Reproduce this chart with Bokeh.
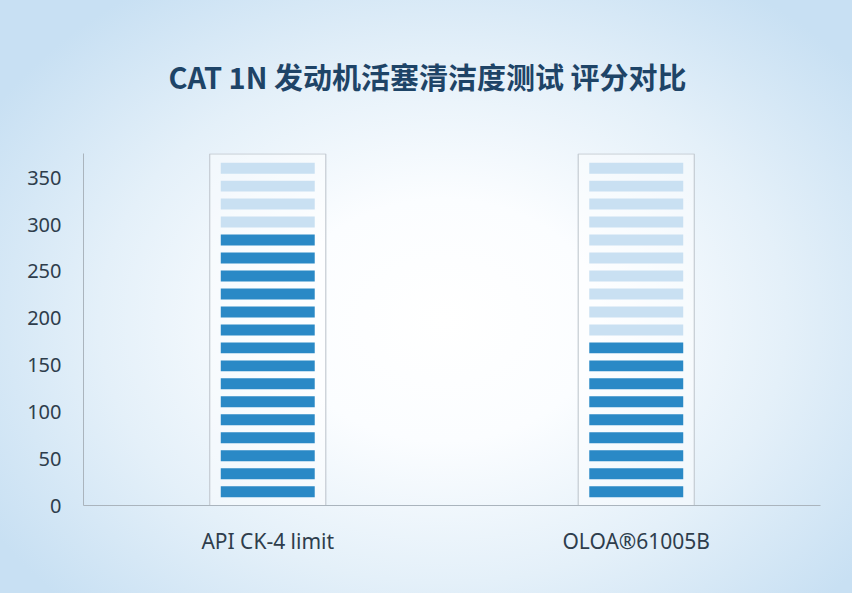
from bokeh.plotting import figure
from bokeh.models import FactorRange, Range1d, FixedTicker, Title, InlineStyleSheet, ColumnDataSource
from bokeh.embed import file_html
from bokeh.resources import INLINE

# ---- data ----
categories = ["API CK-4 limit", "OLOA®61005B"]
scores = [286, 175]
y_ticks = [0, 50, 100, 150, 200, 250, 300, 350]
title_text = "CAT 1N 发动机活塞清洁度测试 评分对比"

# ---- pictogram design parameters ----
n_segments = 19
seg_value = 19.2      # score units represented by one segment
seg_base = 8.9
seg_height = 11.7
y_max = 376

DARK = "#2a89c6"
LIGHT = "#c9e0f2"
TEXT = "#2e3d4c"
AXIS = "#aab4bd"

xs, bottoms, tops, colors = [], [], [], []
for cat, sc in zip(categories, scores):
    n_dark = int(round(sc / seg_value))
    for k in range(n_segments):
        b = seg_base + seg_value * k
        xs.append(cat)
        bottoms.append(b)
        tops.append(b + seg_height)
        colors.append(DARK if k < n_dark else LIGHT)
seg_src = ColumnDataSource(dict(x=xs, bottom=bottoms, top=tops, color=colors))

css = InlineStyleSheet(css="""
:host {
  background: radial-gradient(ellipse 62% 68% at 52% 54%, #ffffff 0%, #fbfdff 30%, #e4f0f9 65%, #c8e0f3 100%);
}
""")

p = figure(width=852, height=593,
           x_range=FactorRange(factors=categories),
           y_range=Range1d(0, y_max),
           output_backend="svg", toolbar_location=None,
           min_border_left=83, min_border_right=32,
           min_border_top=152, min_border_bottom=88)
p.stylesheets = [css]
p.background_fill_alpha = 0
p.border_fill_alpha = 0
p.outline_line_color = None
p.xgrid.grid_line_color = None
p.ygrid.grid_line_color = None

# frame boxes
p.vbar(x=categories, bottom=0, top=y_max - 0.5, width=0.315,
       fill_color="white", fill_alpha=0.45, line_color="#c4cbd2", line_width=1.2)
# segments
p.vbar(x="x", bottom="bottom", top="top", width=0.255, source=seg_src,
       fill_color="color", line_color=None)

# axes
p.yaxis.ticker = FixedTicker(ticks=y_ticks)
p.yaxis.minor_tick_line_color = None
p.yaxis.major_tick_line_color = None
p.yaxis.major_tick_out = 0
p.yaxis.major_tick_in = 0
p.yaxis.major_label_standoff = 22
p.yaxis.axis_line_color = AXIS
p.yaxis.major_label_text_font = "Noto Sans"
p.yaxis.major_label_text_font_size = "20px"
p.yaxis.major_label_text_color = TEXT

p.xaxis.major_tick_line_color = None
p.xaxis.major_tick_out = 0
p.xaxis.major_tick_in = 0
p.xaxis.major_label_standoff = 21
p.xaxis.axis_line_color = AXIS
p.xaxis.major_label_text_font = "Noto Sans"
p.xaxis.major_label_text_font_size = "21px"
p.xaxis.major_label_text_color = TEXT

title = Title(text=title_text, align="left", offset=85, vertical_align="top",
              text_font="Noto Sans CJK SC", text_font_style="bold",
              text_font_size="29px", text_color="#1e4467")
if "standoff" in Title.properties():
    title.standoff = 109
p.add_layout(title, "above")

open("out.html", "w").write(file_html(p, INLINE))
